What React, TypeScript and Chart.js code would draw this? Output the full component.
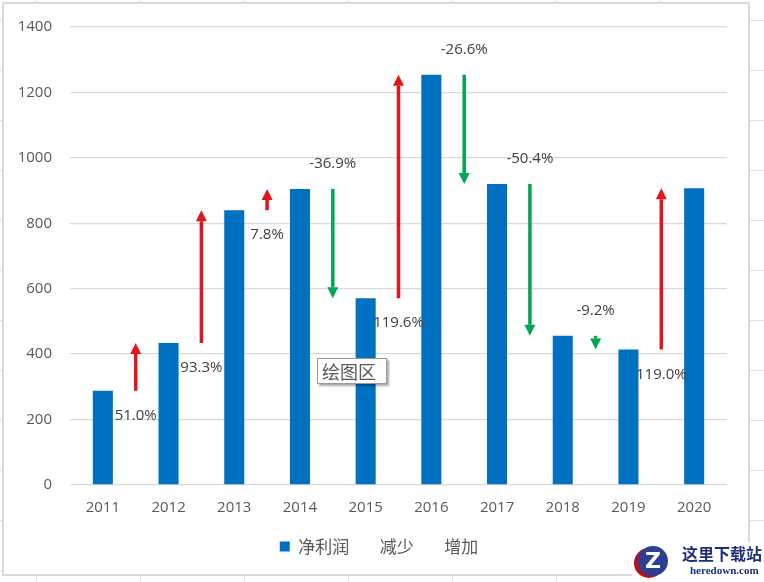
import React, { useEffect, useRef } from "react";
import { Chart, registerables } from "chart.js";

Chart.register(...registerables);

const years = ["2011", "2012", "2013", "2014", "2015", "2016", "2017", "2018", "2019", "2020"];
const netProfit = [288, 434, 840, 905, 571, 1254, 920, 456, 414, 907];
const changeLabels = ["51.0%", "93.3%", "7.8%", "-36.9%", "119.6%", "-26.6%", "-50.4%", "-9.2%", "119.0%"];
const legendNames = ["净利润", "减少", "增加"];
const yMin = 0;
const yMax = 1400;
const yStep = 200;

const BLUE = "#0070C0";
const RED = "#E3151B";
const GREEN = "#00A651";
const TEXT = "#595959";
const LABEL = "#404040";
const NUM_FONT = '"Open Sans", "Noto Sans CJK SC", sans-serif';
const CJK_FONT = '"Noto Sans CJK SC", "Open Sans", sans-serif';

const backgroundPlugin = {
  id: "sheetBackground",
  beforeDraw(chart: any) {
    const { ctx, width, height } = chart;
    ctx.save();
    ctx.fillStyle = "#FFFFFF";
    ctx.fillRect(0, 0, width, height);
    ctx.strokeStyle = "#E2E2E2";
    ctx.lineWidth = 1;
    for (let x = 36; x < width; x += 104) {
      ctx.beginPath();
      ctx.moveTo(x + 0.5, 0);
      ctx.lineTo(x + 0.5, height);
      ctx.stroke();
    }
    for (let y = 20; y < height; y += 50) {
      ctx.beginPath();
      ctx.moveTo(0, y + 0.5);
      ctx.lineTo(width, y + 0.5);
      ctx.stroke();
    }
    ctx.fillStyle = "#FFFFFF";
    ctx.fillRect(3, 3, 746, 572);
    ctx.strokeStyle = "#D9D9D9";
    ctx.lineWidth = 2;
    ctx.strokeRect(3, 3, 746, 572);
    ctx.restore();
  },
};

const legendShiftPlugin = {
  id: "legendShift",
  afterLayout(chart: any) {
    const l = chart.legend;
    if (!l) return;
    const shift = 379 - (l.left + l.right) / 2;
    l.left += shift;
    l.right += shift;
  },
};

const arrowPlugin = {
  id: "changeArrows",
  afterDatasetsDraw(chart: any) {
    const { ctx } = chart;
    const xs = chart.scales.x;
    const ys = chart.scales.y;
    ctx.save();
    for (let i = 0; i < netProfit.length - 1; i++) {
      const x = (xs.getPixelForValue(i) + xs.getPixelForValue(i + 1)) / 2;
      const y0 = ys.getPixelForValue(netProfit[i]);
      const y1 = ys.getPixelForValue(netProfit[i + 1]);
      const up = netProfit[i + 1] > netProfit[i];
      const color = up ? RED : GREEN;
      const dir = up ? 1 : -1;
      const headLen = 11;
      const headHalf = 5.5;
      const total = Math.abs(y1 - y0);
      const hl = Math.min(headLen, total);
      const baseY = y1 + dir * hl;
      ctx.strokeStyle = color;
      ctx.fillStyle = color;
      ctx.lineWidth = 3.5;
      ctx.lineCap = "butt";
      if (total > hl) {
        ctx.beginPath();
        ctx.moveTo(x, y0);
        ctx.lineTo(x, baseY);
        ctx.stroke();
      }
      ctx.beginPath();
      ctx.moveTo(x, y1);
      ctx.lineTo(x - headHalf, baseY);
      ctx.lineTo(x + headHalf, baseY);
      ctx.closePath();
      ctx.fill();

      ctx.fillStyle = LABEL;
      ctx.font = `15px ${NUM_FONT}`;
      ctx.textAlign = "center";
      ctx.textBaseline = "middle";
      const ly = up ? y0 + 25 : y0 - 25;
      ctx.fillText(changeLabels[i], x, ly);
    }
    ctx.restore();
  },
};

export default function App() {
  const canvasRef = useRef<HTMLCanvasElement | null>(null);

  useEffect(() => {
    const canvas = canvasRef.current;
    if (!canvas) return;
    const chart = new Chart(canvas, {
      type: "bar",
      data: {
        labels: years,
        datasets: [
          {
            label: legendNames[0],
            data: netProfit,
            backgroundColor: BLUE,
            borderWidth: 0,
            barPercentage: 0.305,
            categoryPercentage: 1,
          },
          {
            type: "line",
            label: legendNames[1],
            data: years.map(() => null),
            showLine: false,
            pointRadius: 0,
            borderColor: "rgba(0,0,0,0)",
            backgroundColor: "rgba(0,0,0,0)",
          } as any,
          {
            type: "line",
            label: legendNames[2],
            data: years.map(() => null),
            showLine: false,
            pointRadius: 0,
            borderColor: "rgba(0,0,0,0)",
            backgroundColor: "rgba(0,0,0,0)",
          } as any,
        ],
      },
      options: {
        animation: false,
        responsive: false,
        devicePixelRatio: 1,
        layout: { padding: { left: 0, right: 37, top: 20, bottom: 17 } },
        scales: {
          x: {
            grid: { display: false },
            border: { display: false },
            ticks: { color: TEXT, font: { size: 15, family: NUM_FONT }, padding: 6 },
            afterFit: (scale: any) => {
              scale.height = 41;
            },
          },
          y: {
            min: yMin,
            max: yMax,
            border: { display: false },
            grid: { color: "#D9D9D9", lineWidth: 1.3, drawTicks: false },
            ticks: {
              stepSize: yStep,
              color: TEXT,
              font: { size: 15, family: NUM_FONT },
              padding: 18,
              callback: (v: any) => String(v),
            },
            afterFit: (scale: any) => {
              scale.width = 70;
            },
          },
        },
        plugins: {
          tooltip: { enabled: false },
          legend: {
            position: "bottom",
            labels: {
              color: TEXT,
              font: { size: 17, family: CJK_FONT },
              boxWidth: 10,
              boxHeight: 10,
              padding: 12,
              generateLabels: () =>
                legendNames.map((name, i) => ({
                  text: name,
                  fillStyle: i === 0 ? BLUE : "rgba(0,0,0,0)",
                  strokeStyle: "rgba(0,0,0,0)",
                  lineWidth: 0,
                  hidden: false,
                  datasetIndex: i,
                  fontColor: TEXT,
                })),
            },
          },
        },
      },
      plugins: [backgroundPlugin, legendShiftPlugin, arrowPlugin],
    } as any);
    return () => chart.destroy();
  }, []);

  return (
    <div style={{ position: "absolute", left: 0, top: 0, width: 764, height: 582, overflow: "hidden" }}>
      <canvas ref={canvasRef} width={764} height={582} style={{ display: "block", width: 764, height: 582 }} />
      <div
        style={{
          position: "absolute",
          left: 317,
          top: 358,
          width: 64,
          height: 24,
          background: "#FFFFFF",
          border: "1px solid #9A9A9A",
          boxShadow: "2px 2px 2px rgba(0,0,0,0.35)",
          fontFamily: CJK_FONT,
          fontSize: 18,
          lineHeight: "24px",
          color: TEXT,
          paddingLeft: 4,
          boxSizing: "content-box",
        }}
      >
        绘图区
      </div>
      <div style={{ position: "absolute", left: 632, top: 542, width: 132, height: 40, background: "#FFFFFF" }}>
        <div
          style={{
            position: "absolute",
            left: 6,
            top: 4,
            width: 30,
            height: 30,
            borderRadius: "50%",
            background: "#2B3F93",
            color: "#FFFFFF",
            fontFamily: '"DejaVu Sans", sans-serif',
            fontWeight: "bold",
            fontSize: 22,
            lineHeight: "30px",
            textAlign: "center",
            boxShadow: "-4px 2px 0 0 #B5121B",
          }}
        >
          Z
        </div>
        <div
          style={{
            position: "absolute",
            left: 50,
            top: 2,
            fontFamily: '"Noto Sans CJK SC", serif',
            fontWeight: "bold",
            fontSize: 16,
            lineHeight: "18px",
            color: "#1E2F7A",
            whiteSpace: "nowrap",
          }}
        >
          这里下载站
        </div>
        <div
          style={{
            position: "absolute",
            left: 58,
            top: 22,
            fontFamily: '"Liberation Serif", serif',
            fontWeight: "bold",
            fontSize: 11,
            lineHeight: "12px",
            color: "#1E2F7A",
            whiteSpace: "nowrap",
          }}
        >
          heredown.com
        </div>
      </div>
    </div>
  );
}
